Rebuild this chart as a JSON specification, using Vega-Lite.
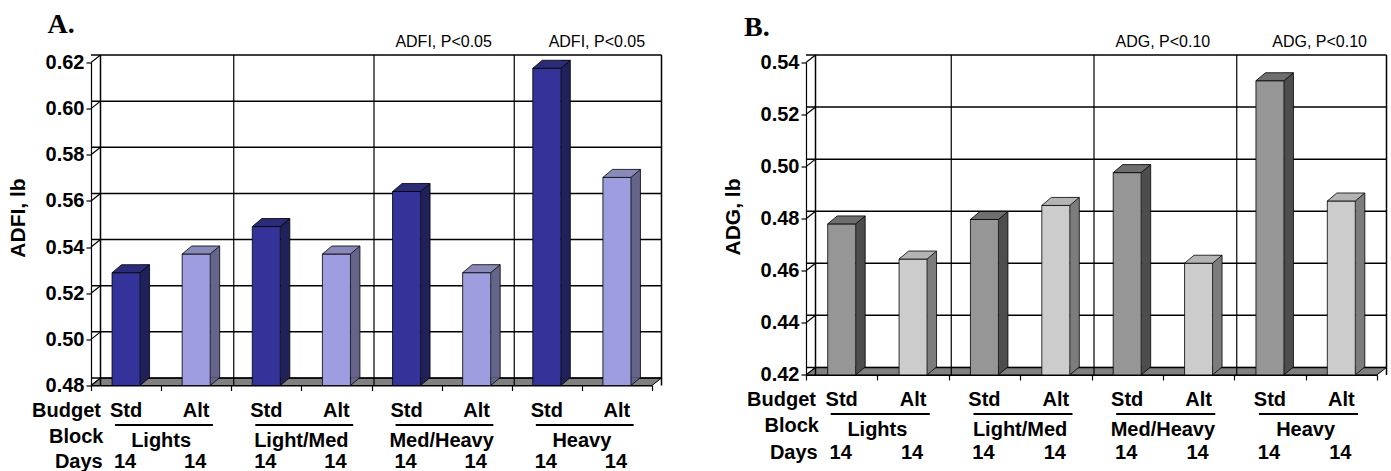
{
  "$schema": "https://vega.github.io/schema/vega-lite/v6.json",
  "padding": {"left": 7, "top": 10.5, "right": 0, "bottom": 0},
  "spacing": 58,
  "config": {"view": {"stroke": null}, "font": "Liberation Sans", "text": {"color": "black"}},
  "datasets": {
    "barsA": [
      {"key": "Lights Std", "block": "Lights", "budget": "Std", "days": 14, "value": 0.5289},
      {"key": "Lights Alt", "block": "Lights", "budget": "Alt", "days": 14, "value": 0.537},
      {"key": "Light/Med Std", "block": "Light/Med", "budget": "Std", "days": 14, "value": 0.5489},
      {"key": "Light/Med Alt", "block": "Light/Med", "budget": "Alt", "days": 14, "value": 0.537},
      {"key": "Med/Heavy Std", "block": "Med/Heavy", "budget": "Std", "days": 14, "value": 0.5641},
      {"key": "Med/Heavy Alt", "block": "Med/Heavy", "budget": "Alt", "days": 14, "value": 0.5289},
      {"key": "Heavy Std", "block": "Heavy", "budget": "Std", "days": 14, "value": 0.6175},
      {"key": "Heavy Alt", "block": "Heavy", "budget": "Alt", "days": 14, "value": 0.5702}
    ],
    "barsB": [
      {"key": "Lights Std", "block": "Lights", "budget": "Std", "days": 14, "value": 0.478},
      {"key": "Lights Alt", "block": "Lights", "budget": "Alt", "days": 14, "value": 0.4645},
      {"key": "Light/Med Std", "block": "Light/Med", "budget": "Std", "days": 14, "value": 0.4797},
      {"key": "Light/Med Alt", "block": "Light/Med", "budget": "Alt", "days": 14, "value": 0.4851},
      {"key": "Med/Heavy Std", "block": "Med/Heavy", "budget": "Std", "days": 14, "value": 0.4977},
      {"key": "Med/Heavy Alt", "block": "Med/Heavy", "budget": "Alt", "days": 14, "value": 0.4629},
      {"key": "Heavy Std", "block": "Heavy", "budget": "Std", "days": 14, "value": 0.533},
      {"key": "Heavy Alt", "block": "Heavy", "budget": "Alt", "days": 14, "value": 0.4868}
    ],
    "gridA": [{"value": 0.48}, {"value": 0.5}, {"value": 0.52}, {"value": 0.54}, {"value": 0.56}, {"value": 0.58}, {"value": 0.6}, {"value": 0.62}],
    "gridB": [{"value": 0.42}, {"value": 0.44}, {"value": 0.46}, {"value": 0.48}, {"value": 0.5}, {"value": 0.52}, {"value": 0.54}],
    "inner": [{"key": "Light/Med Std"}, {"key": "Med/Heavy Std"}, {"key": "Heavy Std"}],
    "blocks": [
      {"s": "Lights Std", "a": "Lights Alt", "block": "Lights"},
      {"s": "Light/Med Std", "a": "Light/Med Alt", "block": "Light/Med"},
      {"s": "Med/Heavy Std", "a": "Med/Heavy Alt", "block": "Med/Heavy"},
      {"s": "Heavy Std", "a": "Heavy Alt", "block": "Heavy"}
    ]
  },
  "hconcat": [
    {
      "width": 561,
      "height": 323,
      "layer": [
        {"data": {"name": "barsA"}, "mark": {"type": "bar", "width": {"band": 0.4}, "stroke": "black", "strokeWidth": 0.8, "opacity": 0},
          "encoding": {
            "x": {"field": "key", "type": "nominal", "scale": {"domain": ["Lights Std", "Lights Alt", "Light/Med Std", "Light/Med Alt", "Med/Heavy Std", "Med/Heavy Alt", "Heavy Std", "Heavy Alt"], "paddingInner": 0, "paddingOuter": 0},
              "axis": {"tickBand": "extent", "labels": false, "title": null, "ticks": true, "tickSize": 5, "tickColor": "black", "tickWidth": 1.2, "domainColor": "black", "domainWidth": 1.2, "grid": false}},
            "y": {"field": "value", "type": "quantitative", "scale": {"domain": [0.48, 0.62], "nice": false, "zero": false},
              "axis": {"values": [0.48, 0.5, 0.52, 0.54, 0.56, 0.58, 0.6, 0.62], "format": ".2f", "title": "ADFI, lb", "titleFontSize": 21, "titleFontWeight": "bold", "titleColor": "black", "titlePadding": 17, "titleY": 155, "labelFontSize": 20, "labelFontWeight": "bold", "labelColor": "black", "labelPadding": 2, "labelFlush": false, "labelOverlap": false, "tickSize": 5, "tickColor": "black", "tickWidth": 1.2, "domainColor": "black", "domainWidth": 1.2, "grid": false}},
            "y2": {"datum": 0.48}}},
        {"data": {"values": [{"f": 1}]}, "mark": {"type": "point", "shape": "M0,0 L561,0 L570.5,-7.5 L9.5,-7.5 Z", "size": 4, "filled": true, "fill": "#808080", "stroke": "black", "strokeWidth": 1, "opacity": 1},
          "encoding": {"x": {"datum": "Lights Std", "bandPosition": 0}, "y": {"datum": 0.48}}},
        {"data": {"name": "gridA"}, "mark": {"type": "rule", "xOffset": 9.5, "x2Offset": 9.5, "yOffset": -7.5, "color": "black", "strokeWidth": 1.5},
          "encoding": {"y": {"field": "value", "type": "quantitative"}}},
        {"data": {"name": "gridA"}, "mark": {"type": "point", "shape": "M0,0 L9.5,-7.5", "size": 4, "filled": false, "stroke": "black", "strokeWidth": 1.2, "opacity": 1},
          "encoding": {"x": {"datum": "Lights Std", "bandPosition": 0}, "y": {"field": "value", "type": "quantitative"}}},
        {"data": {"name": "inner"}, "mark": {"type": "rule", "xOffset": 2.5, "yOffset": -7.5, "y2Offset": -7.5, "color": "black", "strokeWidth": 1.2},
          "encoding": {"x": {"field": "key", "type": "nominal", "bandPosition": 0}}},
        {"data": {"values": [{"f": 1}]}, "mark": {"type": "rule", "xOffset": 9.5, "yOffset": -7.5, "y2Offset": -7.5, "color": "black", "strokeWidth": 1.5},
          "encoding": {"x": {"datum": "Lights Std", "bandPosition": 0}}},
        {"data": {"values": [{"f": 1}]}, "mark": {"type": "rule", "xOffset": 9.5, "yOffset": -7.5, "y2Offset": -7.5, "color": "black", "strokeWidth": 1.5},
          "encoding": {"x": {"datum": "Heavy Alt", "bandPosition": 1}}},
        {"data": {"name": "barsA"}, "mark": {"type": "bar", "width": 9.5, "xOffset": 18.75, "yOffset": -8, "y2Offset": -8},
          "encoding": {"x": {"field": "key", "type": "nominal"}, "y": {"field": "value", "type": "quantitative"}, "y2": {"datum": 0.48}, "fill": {"condition": {"test": "datum.budget === 'Std'", "value": "#20205a"}, "value": "#65658c"}}},
        {"data": {"name": "barsA"}, "mark": {"type": "point", "shape": "M14,0 L23.5,-8 L14,-8 Z", "size": 4, "filled": true, "strokeWidth": 0, "opacity": 1},
          "encoding": {"x": {"field": "key", "type": "nominal"}, "y": {"datum": 0.48}, "fill": {"condition": {"test": "datum.budget === 'Std'", "value": "#20205a"}, "value": "#65658c"}}},
        {"data": {"name": "barsA"}, "mark": {"type": "point", "shape": "M14,0 L23.5,-8", "size": 4, "filled": false, "stroke": "black", "strokeWidth": 0.8, "opacity": 1},
          "encoding": {"x": {"field": "key", "type": "nominal"}, "y": {"datum": 0.48}}},
        {"data": {"name": "barsA"}, "mark": {"type": "rule", "xOffset": 23.5, "yOffset": -8, "y2Offset": -8, "color": "black", "strokeWidth": 0.8},
          "encoding": {"x": {"field": "key", "type": "nominal"}, "y": {"field": "value", "type": "quantitative"}, "y2": {"datum": 0.48}}},
        {"data": {"name": "barsA"}, "mark": {"type": "bar", "width": {"band": 0.4}, "stroke": "black", "strokeWidth": 0.8},
          "encoding": {"x": {"field": "key", "type": "nominal"}, "y": {"field": "value", "type": "quantitative"}, "y2": {"datum": 0.48}, "fill": {"condition": {"test": "datum.budget === 'Std'", "value": "#333399"}, "value": "#9d9de0"}}},
        {"data": {"name": "barsA"}, "mark": {"type": "point", "shape": "M-14,0 L14,0 L23.5,-8 L-4.5,-8 Z", "size": 4, "filled": true, "stroke": "black", "strokeWidth": 0.8, "opacity": 1},
          "encoding": {"x": {"field": "key", "type": "nominal"}, "y": {"field": "value", "type": "quantitative"}, "fill": {"condition": {"test": "datum.budget === 'Std'", "value": "#2b2b78"}, "value": "#8a8ab8"}}},
        {"data": {"name": "barsA"}, "mark": {"type": "text", "fontSize": 20, "fontWeight": "bold", "baseline": "alphabetic", "dy": 31},
          "encoding": {"x": {"field": "key", "type": "nominal"}, "y": {"datum": 0.48}, "text": {"field": "budget"}}},
        {"data": {"name": "barsA"}, "mark": {"type": "text", "fontSize": 20, "fontWeight": "bold", "baseline": "alphabetic", "dy": 82, "dx": -1},
          "encoding": {"x": {"field": "key", "type": "nominal"}, "y": {"datum": 0.48}, "text": {"field": "days"}}},
        {"data": {"name": "blocks"}, "mark": {"type": "text", "fontSize": 20, "fontWeight": "bold", "baseline": "alphabetic", "dy": 61.5},
          "encoding": {"x": {"field": "s", "type": "nominal", "bandPosition": 1}, "y": {"datum": 0.48}, "text": {"field": "block"}}},
        {"data": {"name": "blocks"}, "mark": {"type": "rule", "xOffset": -11, "x2Offset": 16.7, "yOffset": 39.5, "color": "black", "strokeWidth": 2},
          "encoding": {"x": {"field": "s", "type": "nominal", "bandPosition": 0.5}, "x2": {"field": "a", "bandPosition": 0.5}, "y": {"datum": 0.48}}},
        {"data": {"values": [{"t": "Budget"}]}, "mark": {"type": "text", "fontSize": 20, "fontWeight": "bold", "align": "right", "baseline": "alphabetic", "dx": 10, "dy": 31},
          "encoding": {"x": {"datum": "Lights Std", "bandPosition": 0}, "y": {"datum": 0.48}, "text": {"field": "t"}}},
        {"data": {"values": [{"t": "Block"}]}, "mark": {"type": "text", "fontSize": 20, "fontWeight": "bold", "align": "right", "baseline": "alphabetic", "dx": 12.5, "dy": 57.5},
          "encoding": {"x": {"datum": "Lights Std", "bandPosition": 0}, "y": {"datum": 0.48}, "text": {"field": "t"}}},
        {"data": {"values": [{"t": "Days"}]}, "mark": {"type": "text", "fontSize": 20, "fontWeight": "bold", "align": "right", "baseline": "alphabetic", "dx": 11.7, "dy": 82},
          "encoding": {"x": {"datum": "Lights Std", "bandPosition": 0}, "y": {"datum": 0.48}, "text": {"field": "t"}}},
        {"data": {"values": [{"t": "ADFI, P<0.05"}]}, "mark": {"type": "text", "fontSize": 16, "baseline": "middle", "dy": -21, "dx": 2},
          "encoding": {"x": {"datum": "Med/Heavy Std", "bandPosition": 1}, "y": {"datum": 0.62}, "text": {"field": "t"}}},
        {"data": {"values": [{"t": "ADFI, P<0.05"}]}, "mark": {"type": "text", "fontSize": 16, "baseline": "middle", "dy": -21, "dx": 15},
          "encoding": {"x": {"datum": "Heavy Std", "bandPosition": 1}, "y": {"datum": 0.62}, "text": {"field": "t"}}},
        {"data": {"values": [{"t": "A."}]}, "mark": {"type": "text", "font": "Liberation Serif", "fontSize": 28, "fontWeight": "bold", "align": "left", "baseline": "alphabetic", "dx": -43.5, "dy": -30},
          "encoding": {"x": {"datum": "Lights Std", "bandPosition": 0}, "y": {"datum": 0.62}, "text": {"field": "t"}}}
      ]
    },
    {
      "width": 571,
      "height": 312.4,
      "layer": [
        {"data": {"name": "barsB"}, "mark": {"type": "bar", "width": {"band": 0.392}, "stroke": "black", "strokeWidth": 0.8, "opacity": 0},
          "encoding": {
            "x": {"field": "key", "type": "nominal", "scale": {"domain": ["Lights Std", "Lights Alt", "Light/Med Std", "Light/Med Alt", "Med/Heavy Std", "Med/Heavy Alt", "Heavy Std", "Heavy Alt"], "paddingInner": 0, "paddingOuter": 0},
              "axis": {"tickBand": "extent", "labels": false, "title": null, "ticks": true, "tickSize": 5, "tickColor": "black", "tickWidth": 1.2, "domainColor": "black", "domainWidth": 1.2, "grid": false}},
            "y": {"field": "value", "type": "quantitative", "scale": {"domain": [0.42, 0.54], "nice": false, "zero": false},
              "axis": {"values": [0.42, 0.44, 0.46, 0.48, 0.5, 0.52, 0.54], "format": ".2f", "title": "ADG, lb", "titleFontSize": 21, "titleFontWeight": "bold", "titleColor": "black", "titlePadding": 17, "titleY": 154, "labelFontSize": 20, "labelFontWeight": "bold", "labelColor": "black", "labelPadding": 2, "labelFlush": false, "labelOverlap": false, "tickSize": 5, "tickColor": "black", "tickWidth": 1.2, "domainColor": "black", "domainWidth": 1.2, "grid": false}},
            "y2": {"datum": 0.42}}},
        {"data": {"values": [{"f": 1}]}, "mark": {"type": "point", "shape": "M0,0 L571,0 L580.5,-7.5 L9.5,-7.5 Z", "size": 4, "filled": true, "fill": "#808080", "stroke": "black", "strokeWidth": 1, "opacity": 1},
          "encoding": {"x": {"datum": "Lights Std", "bandPosition": 0}, "y": {"datum": 0.42}}},
        {"data": {"name": "gridB"}, "mark": {"type": "rule", "xOffset": 9.5, "x2Offset": 9.5, "yOffset": -7.5, "color": "black", "strokeWidth": 1.5},
          "encoding": {"y": {"field": "value", "type": "quantitative"}}},
        {"data": {"name": "gridB"}, "mark": {"type": "point", "shape": "M0,0 L9.5,-7.5", "size": 4, "filled": false, "stroke": "black", "strokeWidth": 1.2, "opacity": 1},
          "encoding": {"x": {"datum": "Lights Std", "bandPosition": 0}, "y": {"field": "value", "type": "quantitative"}}},
        {"data": {"name": "inner"}, "mark": {"type": "rule", "xOffset": 2.5, "yOffset": -7.5, "y2Offset": -7.5, "color": "black", "strokeWidth": 1.2},
          "encoding": {"x": {"field": "key", "type": "nominal", "bandPosition": 0}}},
        {"data": {"values": [{"f": 1}]}, "mark": {"type": "rule", "xOffset": 9.5, "yOffset": -7.5, "y2Offset": -7.5, "color": "black", "strokeWidth": 1.5},
          "encoding": {"x": {"datum": "Lights Std", "bandPosition": 0}}},
        {"data": {"values": [{"f": 1}]}, "mark": {"type": "rule", "xOffset": 9.5, "yOffset": -7.5, "y2Offset": -7.5, "color": "black", "strokeWidth": 1.5},
          "encoding": {"x": {"datum": "Heavy Alt", "bandPosition": 1}}},
        {"data": {"name": "barsB"}, "mark": {"type": "bar", "width": 9.5, "xOffset": 18.75, "yOffset": -8, "y2Offset": -8},
          "encoding": {"x": {"field": "key", "type": "nominal"}, "y": {"field": "value", "type": "quantitative"}, "y2": {"datum": 0.42}, "fill": {"condition": {"test": "datum.budget === 'Std'", "value": "#4d4d4d"}, "value": "#7c7c7c"}}},
        {"data": {"name": "barsB"}, "mark": {"type": "point", "shape": "M14,0 L23.5,-8 L14,-8 Z", "size": 4, "filled": true, "strokeWidth": 0, "opacity": 1},
          "encoding": {"x": {"field": "key", "type": "nominal"}, "y": {"datum": 0.42}, "fill": {"condition": {"test": "datum.budget === 'Std'", "value": "#4d4d4d"}, "value": "#7c7c7c"}}},
        {"data": {"name": "barsB"}, "mark": {"type": "point", "shape": "M14,0 L23.5,-8", "size": 4, "filled": false, "stroke": "black", "strokeWidth": 0.8, "opacity": 1},
          "encoding": {"x": {"field": "key", "type": "nominal"}, "y": {"datum": 0.42}}},
        {"data": {"name": "barsB"}, "mark": {"type": "rule", "xOffset": 23.5, "yOffset": -8, "y2Offset": -8, "color": "black", "strokeWidth": 0.8},
          "encoding": {"x": {"field": "key", "type": "nominal"}, "y": {"field": "value", "type": "quantitative"}, "y2": {"datum": 0.42}}},
        {"data": {"name": "barsB"}, "mark": {"type": "bar", "width": {"band": 0.392}, "stroke": "black", "strokeWidth": 0.8},
          "encoding": {"x": {"field": "key", "type": "nominal"}, "y": {"field": "value", "type": "quantitative"}, "y2": {"datum": 0.42}, "fill": {"condition": {"test": "datum.budget === 'Std'", "value": "#969696"}, "value": "#cccccc"}}},
        {"data": {"name": "barsB"}, "mark": {"type": "point", "shape": "M-14,0 L14,0 L23.5,-8 L-4.5,-8 Z", "size": 4, "filled": true, "stroke": "black", "strokeWidth": 0.8, "opacity": 1},
          "encoding": {"x": {"field": "key", "type": "nominal"}, "y": {"field": "value", "type": "quantitative"}, "fill": {"condition": {"test": "datum.budget === 'Std'", "value": "#6e6e6e"}, "value": "#b4b4b4"}}},
        {"data": {"name": "barsB"}, "mark": {"type": "text", "fontSize": 20, "fontWeight": "bold", "baseline": "alphabetic", "dy": 31},
          "encoding": {"x": {"field": "key", "type": "nominal"}, "y": {"datum": 0.42}, "text": {"field": "budget"}}},
        {"data": {"name": "barsB"}, "mark": {"type": "text", "fontSize": 20, "fontWeight": "bold", "baseline": "alphabetic", "dy": 84.5, "dx": -1},
          "encoding": {"x": {"field": "key", "type": "nominal"}, "y": {"datum": 0.42}, "text": {"field": "days"}}},
        {"data": {"name": "blocks"}, "mark": {"type": "text", "fontSize": 20, "fontWeight": "bold", "baseline": "alphabetic", "dy": 61.5},
          "encoding": {"x": {"field": "s", "type": "nominal", "bandPosition": 1}, "y": {"datum": 0.42}, "text": {"field": "block"}}},
        {"data": {"name": "blocks"}, "mark": {"type": "rule", "xOffset": -11, "x2Offset": 16.7, "yOffset": 39, "color": "black", "strokeWidth": 2},
          "encoding": {"x": {"field": "s", "type": "nominal", "bandPosition": 0.5}, "x2": {"field": "a", "bandPosition": 0.5}, "y": {"datum": 0.42}}},
        {"data": {"values": [{"t": "Budget"}]}, "mark": {"type": "text", "fontSize": 20, "fontWeight": "bold", "align": "right", "baseline": "alphabetic", "dx": 10, "dy": 31},
          "encoding": {"x": {"datum": "Lights Std", "bandPosition": 0}, "y": {"datum": 0.42}, "text": {"field": "t"}}},
        {"data": {"values": [{"t": "Block"}]}, "mark": {"type": "text", "fontSize": 20, "fontWeight": "bold", "align": "right", "baseline": "alphabetic", "dx": 13, "dy": 57.5},
          "encoding": {"x": {"datum": "Lights Std", "bandPosition": 0}, "y": {"datum": 0.42}, "text": {"field": "t"}}},
        {"data": {"values": [{"t": "Days"}]}, "mark": {"type": "text", "fontSize": 20, "fontWeight": "bold", "align": "right", "baseline": "alphabetic", "dx": 11.7, "dy": 84.5},
          "encoding": {"x": {"datum": "Lights Std", "bandPosition": 0}, "y": {"datum": 0.42}, "text": {"field": "t"}}},
        {"data": {"values": [{"t": "ADG, P<0.10"}]}, "mark": {"type": "text", "fontSize": 16, "baseline": "middle", "dy": -20.3},
          "encoding": {"x": {"datum": "Med/Heavy Std", "bandPosition": 1}, "y": {"datum": 0.54}, "text": {"field": "t"}}},
        {"data": {"values": [{"t": "ADG, P<0.10"}]}, "mark": {"type": "text", "fontSize": 16, "baseline": "middle", "dy": -20.3, "dx": 14},
          "encoding": {"x": {"datum": "Heavy Std", "bandPosition": 1}, "y": {"datum": 0.54}, "text": {"field": "t"}}},
        {"data": {"values": [{"t": "B."}]}, "mark": {"type": "text", "font": "Liberation Serif", "fontSize": 28, "fontWeight": "bold", "align": "left", "baseline": "alphabetic", "dx": -62, "dy": -26.6},
          "encoding": {"x": {"datum": "Lights Std", "bandPosition": 0}, "y": {"datum": 0.54}, "text": {"field": "t"}}}
      ]
    }
  ]
}
